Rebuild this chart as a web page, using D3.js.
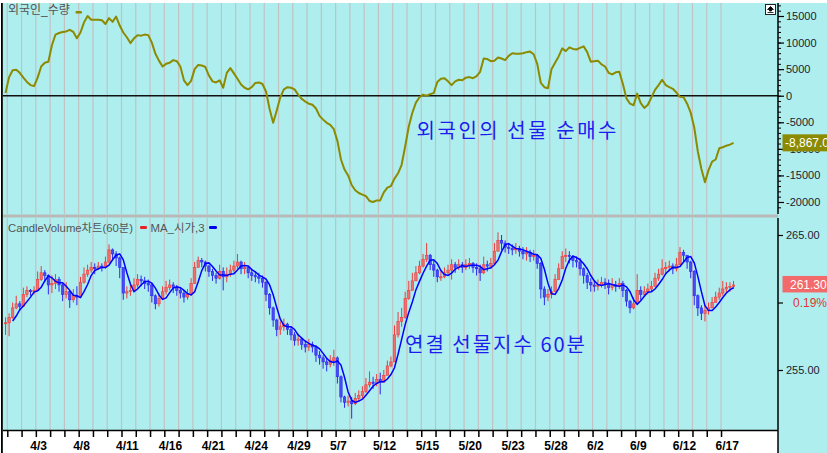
<!DOCTYPE html>
<html><head><meta charset="utf-8">
<script src="https://cdn.jsdelivr.net/npm/d3@7"></script>
<style>body{margin:0;background:#fff}svg{display:block}</style>
</head><body><svg id="c" width="827" height="453"></svg>
<script>
// ---------- DATA ----------
const days = ["4/1","4/2","4/3","4/4","4/7","4/8","4/9","4/10","4/11","4/14","4/15","4/16","4/17","4/18",
  "4/21","4/22","4/23","4/24","4/25","4/28","4/29","4/30","5/2","5/7","5/8","5/9","5/12","5/13","5/14",
  "5/15","5/16","5/19","5/20","5/21","5/22","5/23","5/26","5/27","5/28","5/29","5/30","6/2","6/3","6/5",
  "6/9","6/10","6/11","6/12","6/13","6/16","6/17"];
const xLabels = ["4/3","4/8","4/11","4/16","4/21","4/24","4/29","5/7","5/12","5/15","5/20","5/23","5/28","6/2","6/9","6/12","6/17"];
const barsPerDay = 4; // first value of each series is the last bar of the previous session

const foreign = [500,
  3500,4800,4900,4300, 3400,2600,2000,1800, 3400,5500,6200,6400, 9500,11500,11800,12000,
  12100,12400,12000,10800, 11900,13800,15000,14300, 14300,14300,14200,13500, 14600,13900,14900,13200,
  11900,11000,9900,10800, 11400,11300,11500,11400, 10000,7900,6600,5500, 6000,6200,6700,6500,
  5500,2900,2000,2800, 5000,5800,5700,5400, 3800,2700,2500,2900, 1500,4300,5200,4200,
  3200,2100,1500,1200, 1600,2400,2500,2200, 800,-2500,-5100,-2800, -300,1200,1600,1500,
  1200,200,-600,-1100, -1500,-1700,-2400,-3800, -4500,-5100,-5500,-6300, -8500,-12000,-13900,-15000,
  -16800,-17800,-18300,-18600, -18900,-19800,-20000,-19700, -19700,-18200,-17300,-17000, -15600,-14600,-13000,-9500,
  -5800,-3200,-1300,-300, 200,0,300,500, 2600,3200,3300,2700, 2000,2700,3000,2900,
  3400,3500,3300,3700, 4500,7000,6900,6500, 6600,7200,7000,6700, 7500,8000,7900,7900,
  8000,8200,8300,7800, 6000,2400,1600,1400, 5000,6200,7400,8900, 8400,9100,8800,8700,
  9000,9300,8200,6400, 6500,6600,5900,5500, 4300,4000,4400,4500, 2200,-500,-1500,-1800,
  400,-1400,-2300,-1700, -300,1100,2000,3000, 2000,1600,1300,600, -200,-300,-1500,-3200,
  -6000,-10500,-13800,-16300, -14000,-12400,-12000,-9900, -9700,-9400,-9200,-8867];

const closeP = [258.5,
  258.9,259.6,259.9,259.7, 260.6,260.9,260.8,260.9, 261.7,262.2,262.0,261.3, 261.4,261.7,261.3,260.6,
  260.8,260.2,260.5,260.4, 261.5,262.1,262.4,262.6, 262.5,262.7,262.6,263.0, 263.9,263.6,263.3,262.6,
  260.7,260.8,260.9,261.3, 261.7,261.6,261.4,261.3, 260.5,259.9,260.3,260.8, 261.1,261.3,261.1,260.9,
  260.7,260.4,260.6,261.4, 262.6,263.1,263.0,262.7, 262.3,262.0,261.8,262.3, 261.9,262.1,262.4,262.7,
  263.0,262.5,262.6,262.2, 262.0,261.9,261.8,261.5, 260.6,259.6,258.7,258.0, 258.2,258.4,258.0,257.6,
  257.2,257.3,256.9,256.7, 256.9,256.7,256.1,255.9, 255.6,255.4,255.7,255.9, 254.5,253.0,252.6,252.7,
  252.5,252.9,253.1,253.4, 253.9,254.1,254.0,254.3, 254.1,254.6,255.3,255.6, 257.6,258.6,258.9,260.3,
  260.9,261.6,262.2,262.7, 263.2,263.5,262.8,262.4, 261.9,261.9,262.2,262.4, 262.8,262.6,262.8,262.6,
  262.8,262.9,262.6,262.5, 262.2,262.8,262.7,262.9, 263.8,264.6,264.4,264.1, 264.0,263.9,264.0,263.8,
  263.6,263.7,263.4,263.5, 262.9,261.0,260.4,260.6, 260.8,261.7,262.5,263.4, 263.5,263.4,263.1,263.0,
  262.5,262.0,261.5,261.3, 261.2,261.3,261.5,261.4, 261.1,261.3,261.2,261.4, 260.9,260.1,259.6,259.9,
  260.9,260.6,260.8,261.0, 261.2,261.8,262.1,262.5, 262.6,262.7,262.5,262.8, 263.7,263.5,263.0,262.3,
  260.5,259.6,259.2,259.4, 259.6,260.0,260.4,260.7, 261.0,261.1,261.2,261.3];

const highP = [258.9,
  259.2,260.0,260.5,260.1, 261.1,261.2,261.0,261.2, 262.3,262.7,262.4,262.1, 262.0,262.1,261.9,261.4,
  261.5,260.9,261.0,261.2, 261.9,262.6,262.8,263.0, 262.9,263.0,262.9,263.4, 264.3,264.0,263.8,263.4,
  262.4,261.2,261.4,261.8, 262.1,262.0,261.9,261.7, 261.4,260.6,260.7,261.2, 261.6,261.7,261.5,261.3,
  261.1,260.9,261.0,261.8, 263.0,263.4,263.3,263.1, 262.8,262.5,262.2,262.8, 262.6,262.6,262.8,263.1,
  263.6,263.1,263.0,262.7, 262.5,262.3,262.2,262.0, 261.6,260.7,259.7,258.8, 258.6,258.8,258.5,258.2,
  257.8,257.7,257.4,257.2, 257.3,257.1,256.8,256.4, 256.1,255.9,256.1,256.5, 256.0,254.6,253.1,253.1,
  253.0,253.3,253.5,253.8, 254.4,254.9,254.5,254.7, 254.8,255.0,255.7,256.0, 258.3,259.3,259.6,260.8,
  261.6,262.2,262.7,263.1, 263.6,264.4,263.6,263.1, 262.5,262.3,262.6,262.8, 263.2,263.0,263.2,263.0,
  263.2,263.3,263.0,262.9, 262.8,263.4,263.1,263.3, 264.4,265.2,265.0,264.6, 264.4,264.3,264.4,264.2,
  264.1,264.1,263.9,263.9, 263.6,263.0,261.2,261.0, 261.2,262.1,262.9,263.8, 264.0,263.8,263.5,263.4,
  263.3,262.6,262.2,261.8, 261.6,261.7,261.9,261.8, 261.7,261.8,261.6,261.8, 261.6,261.0,260.2,260.4,
  262.1,261.2,261.2,261.4, 261.6,262.2,262.5,263.2, 263.0,263.1,262.9,263.3, 264.1,263.9,263.5,263.1,
  262.4,260.6,259.8,259.8, 260.0,260.4,260.8,261.1, 261.6,261.5,261.5,261.6];

const lowP = [257.6,
  257.5,258.8,259.5,259.4, 259.7,260.4,260.5,260.6, 260.9,261.6,261.5,260.6, 260.7,261.0,260.8,260.1,
  260.3,259.6,260.0,259.8, 260.4,261.4,261.9,262.2, 262.1,262.4,262.3,262.5, 262.9,263.1,262.7,261.8,
  260.2,260.3,260.5,260.8, 261.1,261.2,261.0,260.8, 260.0,259.5,259.7,260.2, 260.6,260.9,260.7,260.5,
  260.3,260.0,260.2,260.5, 261.4,262.6,262.6,262.3, 261.9,261.6,261.4,261.7, 260.9,261.5,261.9,262.2,
  262.5,262.1,262.1,261.8, 261.6,261.5,261.4,261.1, 260.1,259.1,258.2,257.5, 257.6,257.9,257.6,257.2,
  256.8,256.8,256.5,256.3, 256.4,256.3,255.6,255.4, 255.1,254.9,255.2,255.3, 254.0,252.6,252.2,252.3,
  251.4,252.4,252.7,252.9, 253.3,253.7,253.6,253.8, 253.2,254.1,254.6,255.2, 255.6,257.4,258.2,258.8,
  260.2,261.0,261.6,262.1, 262.6,263.0,262.4,261.9, 261.5,261.6,261.8,262.0, 261.7,262.2,262.4,262.2,
  262.4,262.5,262.2,262.0, 261.6,262.1,262.3,262.5, 262.8,263.9,263.9,263.7, 263.6,263.5,263.6,263.4,
  263.2,263.1,263.0,263.1, 262.5,260.3,259.8,260.1, 260.3,260.8,261.8,262.6, 263.0,262.9,262.6,262.6,
  262.0,261.4,261.0,260.8, 260.8,260.9,261.1,261.0, 260.6,260.9,260.8,261.0, 260.4,259.7,259.2,259.5,
  260.1,260.2,260.4,260.6, 260.8,261.2,261.6,262.0, 262.1,262.3,262.1,262.3, 262.9,263.0,262.5,261.8,
  259.8,259.0,258.7,258.6, 259.1,259.6,260.0,260.2, 260.5,260.7,260.8,261.0];

const topTicks = [15000,10000,5000,0,-5000,-10000,-15000,-20000];
const botTicks = [265,260,255];
const botTickLabels = ["265.00","","255.00"];
const lastForeign = "-8,867.0";
const lastPrice = "261.30";
const lastChange = "0.19%";

// ---------- DRAW ----------
const svg = d3.select("#c");
const W = 827, H = 453;
const L = 3, R = 778, T1 = 3, B1 = 214, T2 = 218, B2 = 430;
const FONT = "'Liberation Sans', Arial, 'Noto Sans CJK KR', sans-serif";

svg.append("rect").attr("width", W).attr("height", H).attr("fill", "#AFEEEE");
svg.append("rect").attr("width", W).attr("height", 3).attr("fill", "#fff");
svg.append("rect").attr("x", 0).attr("y", 0).attr("width", 1).attr("height", H).attr("fill", "#fff");
svg.append("rect").attr("x", L).attr("y", B2).attr("width", R - L).attr("height", H - B2).attr("fill", "#fff");

const x = d3.scaleLinear().domain([0, days.length * barsPerDay]).range([7.3, 735.3]);
const bx = i => x(i - 0.5);
const yTop = d3.scaleLinear().domain([-20000, 15000]).range([202, 16]);
const yBot = d3.scaleLinear().domain([255, 265]).range([370, 235]);

const defs = svg.append("defs");
defs.append("clipPath").attr("id", "cTop").append("rect").attr("x", L).attr("y", T1).attr("width", R - L).attr("height", B1 - T1);
defs.append("clipPath").attr("id", "cBot").append("rect").attr("x", L).attr("y", T2).attr("width", R - L).attr("height", B2 - T2);

// grid lines
const grid = svg.append("g").attr("stroke", "#c2c2c2").attr("stroke-width", 1.2);
days.forEach((d, k) => {
  const gx = x(k * barsPerDay);
  grid.append("line").attr("x1", gx).attr("x2", gx).attr("y1", T1).attr("y2", B1);
  grid.append("line").attr("x1", gx).attr("x2", gx).attr("y1", T2).attr("y2", B2);
});

// separator
svg.append("rect").attr("x", L).attr("y", 214.5).attr("width", R - L).attr("height", 3).attr("fill", "#b9b9b9");

// zero line
svg.append("line").attr("x1", L).attr("x2", R).attr("y1", yTop(0)).attr("y2", yTop(0))
  .attr("stroke", "#111").attr("stroke-width", 1.5);

// foreign line
svg.append("path").attr("clip-path", "url(#cTop)")
  .datum(foreign)
  .attr("fill", "none").attr("stroke", "#8c8a00").attr("stroke-width", 2).attr("stroke-linejoin", "round")
  .attr("d", d3.line().x((d, i) => bx(i)).y(d => yTop(d)));

// candles
const openP = closeP.map((c, i) => i === 0 ? closeP[0] : closeP[i - 1]);
const cg = svg.append("g").attr("clip-path", "url(#cBot)");
closeP.forEach((c, i) => {
  const o = openP[i];
  const up = c >= o;
  const col = up ? "#ee3b3b" : "#2a2af0";
  const cx = bx(i);
  cg.append("line").attr("x1", cx).attr("x2", cx)
    .attr("y1", yBot(Math.max(highP[i], o, c))).attr("y2", yBot(Math.min(lowP[i], o, c)))
    .attr("stroke", col).attr("stroke-width", 1);
  const y1 = yBot(Math.max(o, c)), y2 = yBot(Math.min(o, c));
  cg.append("rect").attr("x", cx - 1.2).attr("width", 2.4)
    .attr("y", y1).attr("height", Math.max(1, y2 - y1))
    .attr("fill", up ? "#f07070" : "#4a4af5").attr("stroke", col).attr("stroke-width", 0.6);
});

// MA of open, 3
const ma = openP.map((o, i) => i < 2 ? null : (openP[i] + openP[i - 1] + openP[i - 2]) / 3);
cg.append("path").datum(ma)
  .attr("fill", "none").attr("stroke", "#0000ff").attr("stroke-width", 1.5)
  .attr("d", d3.line().defined(d => d !== null).x((d, i) => bx(i)).y(d => yBot(d)));

// left border
svg.append("line").attr("x1", 1.9).attr("x2", 1.9).attr("y1", T1).attr("y2", H).attr("stroke", "#000").attr("stroke-width", 1.8);

// x axis
const xa = svg.append("g").attr("transform", `translate(0,${B2})`)
  .call(d3.axisBottom(x).tickValues(days.map((d, k) => k * barsPerDay))
    .tickSize(7).tickPadding(4)
    .tickFormat((v) => { const d = days[v / barsPerDay]; return xLabels.includes(d) ? d : ""; }));
xa.select(".domain").attr("stroke", "#000").attr("stroke-width", 1.5).attr("d", `M${L},0.5H${R}`);
xa.selectAll(".tick line").attr("stroke", "#000").attr("stroke-width", 1.5);
xa.selectAll(".tick text").attr("text-anchor", "start").attr("dx", -6).attr("y", 11)
  .attr("font-family", FONT).attr("font-size", 12).attr("font-weight", "bold").attr("fill", "#000");

// right axes
svg.append("line").attr("x1", R).attr("x2", R).attr("y1", T1).attr("y2", B1).attr("stroke", "#000").attr("stroke-width", 1.5);
svg.append("line").attr("x1", R).attr("x2", R).attr("y1", T2).attr("y2", H).attr("stroke", "#000").attr("stroke-width", 1.5);

const minor = svg.append("g").attr("transform", `translate(${R},0)`)
  .call(d3.axisRight(yTop).tickValues(d3.range(-21000, 17001, 1000)).tickSize(3).tickFormat(""));
minor.select(".domain").remove();
minor.selectAll("line").attr("stroke", "#000");

const ta = svg.append("g").attr("transform", `translate(${R},0)`)
  .call(d3.axisRight(yTop).tickValues(topTicks).tickSize(6).tickPadding(2).tickFormat(d => String(d)));
ta.select(".domain").remove();
ta.selectAll("line").attr("stroke", "#000").attr("stroke-width", 1.2);
ta.selectAll("text").attr("font-family", FONT).attr("font-size", 11).attr("fill", "#1c1c30");

const ba = svg.append("g").attr("transform", `translate(${R},0)`)
  .call(d3.axisRight(yBot).tickValues(botTicks).tickSize(5).tickPadding(3).tickFormat((d, i) => botTickLabels[i]));
ba.select(".domain").remove();
ba.selectAll("line").attr("stroke", "#000").attr("stroke-width", 1.2);
ba.selectAll("text").attr("font-family", FONT).attr("font-size", 11).attr("fill", "#1c1c30");

// last value boxes
const fy = yTop(-8867);
svg.append("rect").attr("x", 782.5).attr("y", fy - 8.5).attr("width", 50).attr("height", 17).attr("fill", "#8c8a00");
svg.append("text").attr("x", 785).attr("y", fy + 4).text(lastForeign)
  .attr("font-family", FONT).attr("font-size", 12).attr("fill", "#fff");

const py = yBot(261.3);
svg.append("rect").attr("x", 782.5).attr("y", py - 9).attr("width", 50).attr("height", 16.5).attr("fill", "#f26a6a");
svg.append("text").attr("x", 790).attr("y", py + 4).text(lastPrice)
  .attr("font-family", FONT).attr("font-size", 12).attr("fill", "#fff");
svg.append("text").attr("x", 793).attr("y", py + 22).text(lastChange)
  .attr("font-family", FONT).attr("font-size", 12).attr("fill", "#e03434");

// top-right icon
svg.append("rect").attr("x", 765.5).attr("y", 4.5).attr("width", 10).attr("height", 10)
  .attr("fill", "#fff").attr("stroke", "#222").attr("stroke-width", 1);
svg.append("path").attr("d", "M770.5,6.5 L773.5,9.5 L771.5,9.5 L771.5,11 L769.5,11 L769.5,9.5 L767.5,9.5 Z M767.5,12.5 H773.5")
  .attr("fill", "#000").attr("stroke", "#000").attr("stroke-width", 0.8);

// legends
svg.append("text").attr("x", 8).attr("y", 14).text("외국인_수량")
  .attr("font-family", FONT).attr("font-size", 12).attr("fill", "#555");
svg.append("rect").attr("x", 75.5).attr("y", 11).attr("width", 6.5).attr("height", 2.6).attr("rx", 1.2).attr("fill", "#8c8a00");

svg.append("text").attr("x", 8).attr("y", 231.5).text("CandleVolume차트(60분)")
  .attr("font-family", FONT).attr("font-size", 11.5).attr("fill", "#555")
  .attr("textLength", 125).attr("lengthAdjust", "spacingAndGlyphs");
svg.append("rect").attr("x", 140).attr("y", 226).attr("width", 7).attr("height", 3).attr("rx", 1.2).attr("fill", "#ee2222");
svg.append("text").attr("x", 150.5).attr("y", 231.5).text("MA_시가,3")
  .attr("font-family", FONT).attr("font-size", 11.5).attr("fill", "#555")
  .attr("textLength", 54).attr("lengthAdjust", "spacingAndGlyphs");
svg.append("rect").attr("x", 209).attr("y", 226).attr("width", 8).attr("height", 3).attr("rx", 1.2).attr("fill", "#0000ee");

// annotations
svg.append("text").attr("x", 416.5).attr("y", 138).text("외국인의 선물 순매수")
  .attr("font-family", "'Noto Sans CJK KR', sans-serif").attr("font-size", 20).attr("fill", "#1c1cf0")
  .attr("textLength", 200).attr("lengthAdjust", "spacing");
svg.append("text").attr("x", 405).attr("y", 352).text("연결 선물지수 60분")
  .attr("font-family", "'Noto Sans CJK KR', sans-serif").attr("font-size", 20).attr("fill", "#1c1cf0")
  .attr("textLength", 180).attr("lengthAdjust", "spacing");
</script>
</body></html>
